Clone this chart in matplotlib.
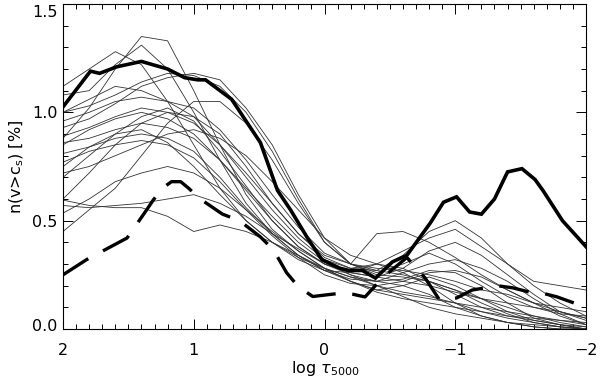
import numpy as np
import matplotlib
matplotlib.use("Agg")
import matplotlib.pyplot as plt
import matplotlib.transforms as mtransforms
from matplotlib.ticker import MultipleLocator

plt.rcParams['font.family'] = ['DejaVu Sans']

# grid of log tau for the individual (thin) curves
x_thin = [2.0, 1.8, 1.6, 1.4, 1.2, 1.0, 0.8, 0.6, 0.4, 0.2, 0.0,
          -0.2, -0.4, -0.6, -0.8, -1.0, -1.2, -1.4, -1.6, -1.8, -2.0]

thin_01 = [0.88, 1.02, 1.20, 1.35, 1.33, 1.10, 0.85, 0.62, 0.46, 0.36, 0.28, 0.24, 0.22, 0.20, 0.16, 0.10, 0.06, 0.03, 0.01, 0.00, 0.00]
thin_02 = [1.12, 1.20, 1.28, 1.22, 1.05, 0.85, 0.65, 0.50, 0.40, 0.32, 0.27, 0.26, 0.30, 0.28, 0.22, 0.16, 0.10, 0.06, 0.04, 0.02, 0.01]
thin_03 = [1.08, 1.10, 1.22, 1.31, 1.20, 1.00, 0.78, 0.58, 0.44, 0.34, 0.27, 0.22, 0.18, 0.20, 0.24, 0.20, 0.14, 0.08, 0.04, 0.02, 0.00]
thin_04 = [0.93, 0.97, 1.04, 1.12, 1.16, 1.18, 1.15, 1.02, 0.85, 0.62, 0.42, 0.30, 0.28, 0.27, 0.25, 0.22, 0.18, 0.16, 0.12, 0.10, 0.08]
thin_05 = [1.00, 1.06, 1.12, 1.10, 1.05, 0.98, 0.85, 0.70, 0.55, 0.42, 0.32, 0.28, 0.30, 0.36, 0.42, 0.46, 0.38, 0.30, 0.22, 0.20, 0.18]
thin_06 = [0.96, 1.00, 1.05, 1.07, 1.05, 1.02, 0.92, 0.78, 0.62, 0.47, 0.35, 0.30, 0.44, 0.45, 0.40, 0.33, 0.25, 0.18, 0.12, 0.08, 0.05]
thin_07 = [0.89, 0.93, 0.98, 1.02, 1.00, 0.95, 0.85, 0.72, 0.58, 0.44, 0.33, 0.28, 0.27, 0.34, 0.45, 0.50, 0.42, 0.30, 0.20, 0.12, 0.06]
thin_08 = [0.86, 0.88, 0.92, 0.95, 0.93, 0.88, 0.78, 0.64, 0.50, 0.38, 0.30, 0.26, 0.24, 0.28, 0.36, 0.40, 0.34, 0.25, 0.16, 0.08, 0.04]
thin_09 = [0.81, 0.84, 0.88, 0.90, 0.88, 0.82, 0.70, 0.56, 0.44, 0.34, 0.27, 0.23, 0.22, 0.26, 0.30, 0.32, 0.28, 0.22, 0.14, 0.07, 0.02]
thin_10 = [0.77, 0.82, 0.85, 0.87, 0.85, 0.79, 0.68, 0.55, 0.43, 0.33, 0.25, 0.21, 0.20, 0.22, 0.26, 0.27, 0.24, 0.18, 0.12, 0.06, 0.02]
thin_11 = [0.70, 0.80, 0.90, 0.98, 1.02, 0.96, 0.82, 0.66, 0.50, 0.38, 0.30, 0.25, 0.22, 0.23, 0.27, 0.26, 0.20, 0.12, 0.05, 0.02, 0.00]
thin_12 = [0.60, 0.72, 0.85, 0.95, 1.00, 0.98, 0.90, 0.75, 0.58, 0.44, 0.34, 0.30, 0.27, 0.25, 0.22, 0.18, 0.14, 0.10, 0.06, 0.03, 0.01]
thin_13 = [0.57, 0.56, 0.57, 0.58, 0.60, 0.62, 0.58, 0.52, 0.44, 0.37, 0.30, 0.26, 0.24, 0.22, 0.20, 0.17, 0.14, 0.12, 0.10, 0.08, 0.05]
thin_14 = [0.535, 0.60, 0.68, 0.72, 0.75, 0.72, 0.65, 0.55, 0.45, 0.36, 0.28, 0.22, 0.18, 0.16, 0.14, 0.12, 0.10, 0.08, 0.06, 0.04, 0.02]
thin_15 = [0.45, 0.55, 0.65, 0.80, 0.95, 1.05, 1.05, 0.95, 0.78, 0.58, 0.40, 0.30, 0.25, 0.24, 0.22, 0.18, 0.12, 0.07, 0.03, 0.01, 0.00]
thin_16 = [0.595, 0.57, 0.56, 0.56, 0.52, 0.45, 0.48, 0.45, 0.40, 0.34, 0.28, 0.22, 0.17, 0.14, 0.12, 0.10, 0.08, 0.06, 0.05, 0.04, 0.03]
thin_17 = [0.85, 0.92, 0.97, 1.00, 0.97, 0.90, 0.78, 0.65, 0.52, 0.40, 0.31, 0.25, 0.20, 0.17, 0.15, 0.12, 0.08, 0.05, 0.03, 0.01, 0.00]
thin_18 = [0.72, 0.75, 0.80, 0.85, 0.90, 0.92, 0.88, 0.80, 0.68, 0.55, 0.42, 0.34, 0.30, 0.26, 0.20, 0.12, 0.06, 0.03, 0.01, 0.00, 0.00]
thin_19 = [0.75, 0.84, 0.90, 0.92, 0.86, 0.75, 0.62, 0.50, 0.40, 0.33, 0.28, 0.24, 0.20, 0.15, 0.10, 0.07, 0.05, 0.03, 0.02, 0.01, 0.00]
thin_20 = [1.00, 1.03, 1.08, 1.14, 1.18, 1.17, 1.12, 1.00, 0.82, 0.60, 0.40, 0.30, 0.26, 0.30, 0.35, 0.30, 0.22, 0.15, 0.10, 0.07, 0.06]

thin_curves = [thin_01, thin_02, thin_03, thin_04, thin_05, thin_06, thin_07,
               thin_08, thin_09, thin_10, thin_11, thin_12, thin_13, thin_14,
               thin_15, thin_16, thin_17, thin_18, thin_19, thin_20]

# thick solid curve
x_solid = [2.0, 1.79, 1.72, 1.59, 1.40, 1.20, 1.07, 0.97, 0.91, 0.71, 0.49, 0.36,
           0.26, 0.13, 0.02, -0.12, -0.19, -0.29, -0.39, -0.52, -0.63, -0.81,
           -0.91, -1.01, -1.11, -1.20, -1.30, -1.40, -1.51, -1.61, -1.67, -1.82, -2.0]
y_solid = [1.025, 1.19, 1.18, 1.21, 1.235, 1.20, 1.16, 1.15, 1.15, 1.06, 0.86, 0.64,
           0.55, 0.42, 0.32, 0.28, 0.27, 0.27, 0.235, 0.31, 0.34, 0.49,
           0.585, 0.61, 0.54, 0.53, 0.60, 0.725, 0.74, 0.69, 0.64, 0.50, 0.38]

# thick dashed curve
x_dash = [2.0, 1.82, 1.51, 1.36, 1.31, 1.24, 1.17, 1.10, 1.04, 0.95, 0.78, 0.65,
          0.49, 0.39, 0.29, 0.20, 0.09, 0.02, -0.12, -0.22, -0.31, -0.45, -0.63,
          -0.77, -0.88, -1.01, -1.13, -1.23, -1.32, -1.44, -1.57, -1.67, -1.78, -2.0]
y_dash = [0.25, 0.32, 0.42, 0.55, 0.595, 0.65, 0.68, 0.68, 0.65, 0.60, 0.53, 0.50,
          0.425, 0.365, 0.26, 0.195, 0.15, 0.155, 0.165, 0.16, 0.148, 0.24, 0.33,
          0.235, 0.134, 0.143, 0.18, 0.19, 0.20, 0.19, 0.17, 0.165, 0.148, 0.10]

x_ticks = [2, 1, 0, -1, -2]
y_ticks = [0.0, 0.5, 1.0, 1.5]

fig = plt.figure(figsize=(6.0, 3.79), dpi=100)
ax = fig.add_axes([63/600, 1-329/379, 523/600, 325/379])

for yc in thin_curves:
    ax.plot(x_thin, yc, color='0.2', lw=0.6)
ax.plot(x_solid, y_solid, color='black', lw=2.6, solid_joinstyle='miter')
ax.plot(x_dash, y_dash, color='black', lw=2.4, ls=(0, (9, 5)))

ax.set_xlim(2, -2)
ax.set_ylim(0, 1.5)
ax.set_xticks(x_ticks)
ax.set_xticklabels([f"{v:g}".replace('-', '\u2212') for v in x_ticks])
ax.set_yticks(y_ticks)
ax.set_yticklabels([f"{v:.1f}" for v in y_ticks])
ax.xaxis.set_minor_locator(MultipleLocator(0.1))
ax.yaxis.set_minor_locator(MultipleLocator(0.1))
ax.tick_params(which='both', direction='in', top=True, right=True, width=0.7,
               labelsize=11.5, colors='black')
ax.tick_params(which='major', length=7)
ax.tick_params(which='minor', length=3.5)
ax.tick_params(axis='x', pad=10)
ax.tick_params(axis='y', pad=4)
for sp in ax.spines.values():
    sp.set_linewidth(0.8)

# IDL-style: end labels kept inside the axis range
ylabels = ax.get_yticklabels()
ylabels[0].set_transform(ylabels[0].get_transform() +
                         mtransforms.ScaledTranslation(0, 4/100, fig.dpi_scale_trans))
ylabels[-1].set_transform(ylabels[-1].get_transform() +
                          mtransforms.ScaledTranslation(0, -7/100, fig.dpi_scale_trans))

fig.text(325/600, 1-369/379, r'log $\tau_{5000}$', ha='center', va='center', fontsize=11.5)
fig.text(17/600, 1-167/379, r'n(v>c$_{\rm s}$) [%]', ha='center', va='center',
         rotation=90, fontsize=11.5)

fig.savefig('out.png', dpi=100)
